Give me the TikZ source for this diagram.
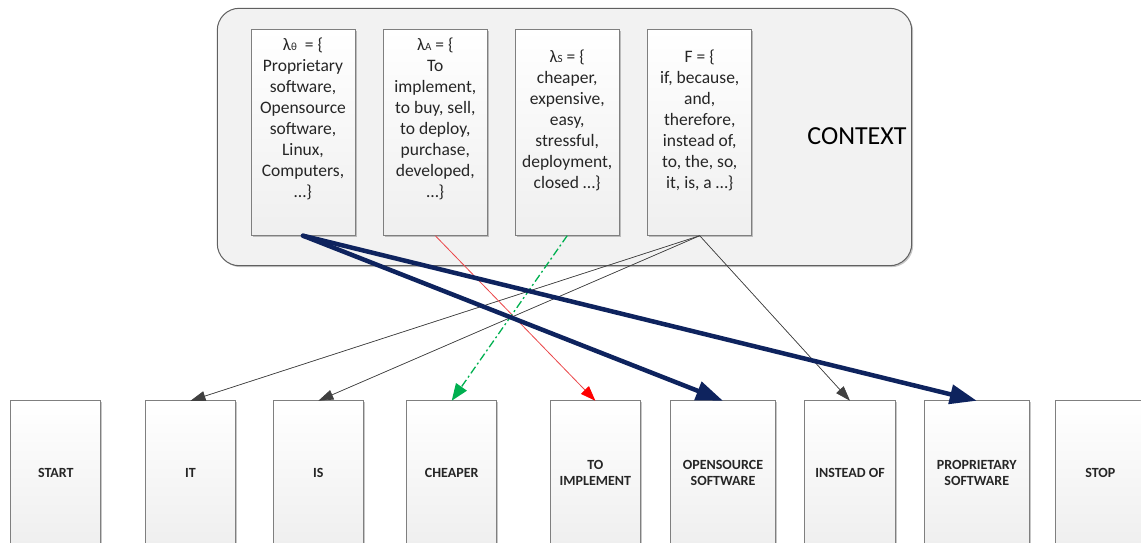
\documentclass[tikz,border=0pt]{standalone}
\usepackage{fontspec}
\setmainfont{Carlito}
\usetikzlibrary{arrows.meta,shadows}

\definecolor{boxline}{HTML}{7F7F7F}
\definecolor{boxfill}{HTML}{EFEFEF}
\definecolor{ctxfill}{HTML}{F2F2F2}
\definecolor{ctxline}{HTML}{606060}
\definecolor{navy}{HTML}{0E235E}
\definecolor{linkgray}{HTML}{404040}
\definecolor{linkred}{HTML}{E8262A}
\definecolor{linkgreen}{HTML}{00B050}
\definecolor{textcol}{HTML}{262626}

% small letter set low beside a lambda
\newcommand\lamsub[1]{{\fontsize{11}{11}\selectfont #1}}

\tikzset{
  softshadow/.style={drop shadow={shadow xshift=1.5pt,shadow yshift=-1.5pt,opacity=0.22,fill=black}},
  ctxbox/.style={draw=ctxline, line width=1pt, fill=ctxfill, rounded corners=22pt, softshadow},
  setbox/.style={draw=boxline, line width=0.8pt, top color=white, bottom color=boxfill,
    minimum width=104pt, minimum height=206.4pt, softshadow},
  settext/.style={align=center, text=textcol, font=\fontsize{17.5}{21}\selectfont},
  wordbox/.style={draw=boxline, line width=0.8pt, top color=white, bottom color=boxfill,
    minimum width=90pt, minimum height=144.3pt, align=center, text=textcol,
    font=\bfseries\fontsize{14}{16.8}\selectfont, softshadow},
  widebox/.style={wordbox, minimum width=105pt},
  thinlink/.style={draw=linkgray, line width=0.7pt, -{Triangle[length=15pt,width=10pt]}, fill=linkgray},
  redlink/.style={draw=linkred!85!white, line width=0.8pt, -{Triangle[length=15pt,width=11pt,fill=red,color=red]}},
  greenlink/.style={draw=linkgreen, line width=1.3pt, dash pattern=on 8pt off 3pt on 2pt off 3pt,
    -{Triangle[length=17pt,width=13pt]}},
  bluelink/.style={draw=navy, line width=4.5pt, line cap=round, -{Triangle[length=27pt,width=19pt]}},
}

\begin{document}
\begin{tikzpicture}[x=1pt,y=-1pt, every node/.style={inner sep=0pt, outer sep=0pt}]
  \useasboundingbox (0,0) rectangle (1141,542);
  \fill[white] (0,0) rectangle (1141,542);

  % context frame with the four word sets
  \node[ctxbox, minimum width=694.4pt, minimum height=257.4pt] (ctx) at (564.5,137) {};
  \node (ctxlabel) at (857,136.5) {\fontsize{26}{31}\selectfont CONTEXT};

  \node[setbox] (b1) at (303,132.5) {};
  \node[setbox] (b2) at (435.3,132.5) {};
  \node[setbox] (b3) at (567.2,132.5) {};
  \node[setbox] (b4) at (699.7,132.5) {};

  \node[settext] (t1) at (303,119) {λ\lamsub{θ}\ \ = \{\\Proprietary\\software,\\Opensource\\software,\\Linux,\\Computers,\\…\}};
  \node[settext] (t2) at (435.3,119) {λ\lamsub{A} = \{\\To\\implement,\\to buy, sell,\\to deploy,\\purchase,\\developed,\\…\}};
  \node[settext] (t3) at (567.2,120) {λ\lamsub{S} = \{\\cheaper,\\expensive,\\easy,\\stressful,\\deployment,\\closed …\}};
  \node[settext] (t4) at (699.7,120) {F = \{\\if, because,\\and,\\therefore,\\instead of,\\to, the, so,\\it, is, a …\}};

  % sentence row
  \node[wordbox] (start)   at (55.85,472.9) {START};
  \node[wordbox] (it)      at (190.5,472.9) {IT};
  \node[wordbox] (is)      at (318.35,472.9) {IS};
  \node[wordbox] (cheaper) at (451.7,472.9) {CHEAPER};
  \node[wordbox] (toimpl)  at (595.35,472.9) {TO\\IMPLEMENT};
  \node[widebox] (opensrc) at (723,472.9) {OPENSOURCE\\SOFTWARE};
  \node[wordbox, minimum width=91.4pt] (instead) at (850,472.9) {INSTEAD OF};
  \node[widebox] (propr)   at (976.8,472.9) {PROPRIETARY\\SOFTWARE};
  \node[wordbox] (stop)    at (1100.3,472.9) {STOP};

  % links from the sets to the words
  \draw[thinlink] (b4.south) -- (it.north);
  \draw[thinlink] (b4.south) -- (is.north);
  \draw[thinlink] (b4.south) -- (instead.north);
  \draw[redlink] (b2.south) -- (toimpl.north);
  \draw[greenlink] (b3.south) -- (cheaper.north);
  \draw[bluelink] (b1.south) -- (opensrc.north);
  \draw[bluelink] (b1.south) -- (propr.north);
\end{tikzpicture}
\end{document}
